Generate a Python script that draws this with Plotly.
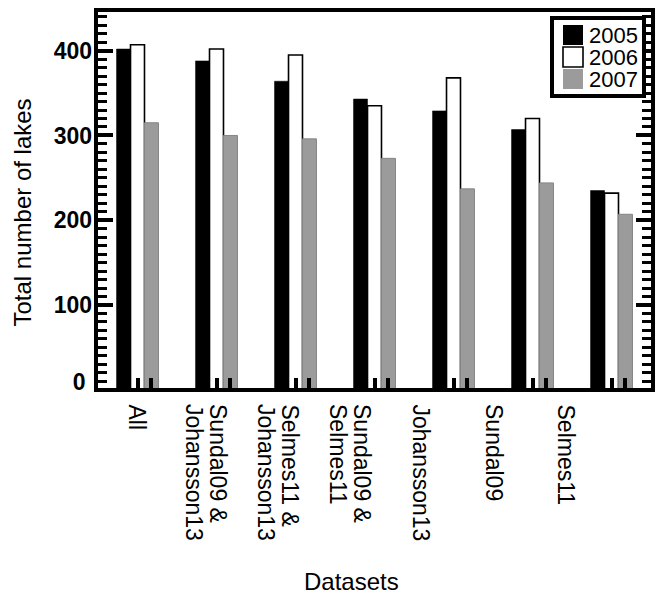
import plotly.graph_objects as go

# ---------------- data ----------------
CATEGORY_LINES = [
    ["All"],
    ["Sundal09 &", "Johansson13"],
    ["Selmes11 &", "Johansson13"],
    ["Sundal09 &", "Selmes11"],
    ["Johansson13"],
    ["Sundal09"],
    ["Selmes11"],
]
YEARS = ["2005", "2006", "2007"]
LAKES_2005 = [402, 388, 364, 343, 329, 307, 235]
LAKES_2006 = [407, 402, 395, 335, 368, 320, 232]
LAKES_2007 = [315, 300, 296, 273, 237, 244, 207]
Y_TICKS = [0, 100, 200, 300, 400]
Y_TICK_LABELS = ["0\u00a0", "100", "200", "300", "400"]
Y_MINOR_STEP = 10

# ---------------- layout helpers ----------------
W, H = 656, 600
PL, PR, PT, PB = 98, 651, 12, 388          # plot area edges in pixels
X_RANGE = [-0.5, 6.5]
Y_RANGE = [2, 445.7]
FONT = "Liberation Sans, Arial, Helvetica, sans-serif"
LINE_W = 4


def px_x(px):
    return (px - PL) / (PR - PL)


def px_y(py):
    return (PB - py) / (PB - PT)


BAR_W = 0.177
STYLES = [
    dict(fill="#000000", line="#000000", lw=0.5),
    dict(fill="#ffffff", line="#000000", lw=1.6),
    dict(fill="#9b9b9b", line="#858585", lw=1.0),
]
OFFSETS = [-1.5 * BAR_W, -0.5 * BAR_W, 0.5 * BAR_W]
SERIES = [LAKES_2005, LAKES_2006, LAKES_2007]

fig = go.Figure()
groups = list(range(len(CATEGORY_LINES)))
for name, vals, st, off in zip(YEARS, SERIES, STYLES, OFFSETS):
    fig.add_trace(go.Bar(
        x=groups, y=vals, name=name, offset=off, width=BAR_W,
        marker=dict(color=st["fill"], opacity=1,
                    line=dict(color=st["line"], width=st["lw"])),
        showlegend=False,
    ))

# empty traces to carry the overlay axes (major ticks, tick labels)
fig.add_trace(go.Scatter(x=[], y=[], yaxis="y2", showlegend=False, hoverinfo="skip"))
fig.add_trace(go.Scatter(x=[], y=[], yaxis="y3", showlegend=False, hoverinfo="skip"))

bar_centers = [g + k * BAR_W for g in groups for k in (-1, 0, 1)]
zero_shift = 8 * (Y_RANGE[1] - Y_RANGE[0]) / (PB - PT)
label_vals = [v + (zero_shift if v == 0 else 0) for v in Y_TICKS]

fig.update_layout(
    width=W, height=H,
    margin=dict(l=PL, r=W - PR, t=PT, b=H - PB, pad=0, autoexpand=False),
    paper_bgcolor="white", plot_bgcolor="white",
    barmode="overlay",
    font=dict(family=FONT, color="black"),
    xaxis=dict(range=X_RANGE, showline=True, linewidth=LINE_W, linecolor="black",
               mirror=True, ticks="inside", ticklen=6 + LINE_W, tickwidth=3.5,
               tickcolor="black", tickmode="array", tickvals=bar_centers,
               showticklabels=False, showgrid=False, zeroline=False,
               fixedrange=True),
    # minor ticks + frame line
    yaxis=dict(range=Y_RANGE, showline=True, linewidth=LINE_W, linecolor="black",
               mirror="ticks", ticks="inside", ticklen=5 + LINE_W, tickwidth=2.5,
               tickcolor="black", tickmode="linear", tick0=0, dtick=Y_MINOR_STEP,
               showticklabels=False, showgrid=False, zeroline=False,
               fixedrange=True),
    # major ticks
    yaxis2=dict(range=Y_RANGE, overlaying="y", side="left", showline=False,
                mirror="ticks", ticks="inside", ticklen=11 + LINE_W, tickwidth=3.5,
                tickcolor="black", tickmode="array", tickvals=Y_TICKS,
                showticklabels=False, showgrid=False, zeroline=False,
                fixedrange=True),
    # tick labels
    yaxis3=dict(range=Y_RANGE, overlaying="y", side="left", showline=False,
                ticks="", tickmode="array", tickvals=label_vals,
                ticktext=Y_TICK_LABELS, showgrid=False, zeroline=False,
                tickfont=dict(size=23, weight="bold", family=FONT),
                ticklabelstandoff=5, fixedrange=True),
)

ann = []
# axis titles
ann.append(dict(text="Total number of lakes", x=px_x(22), y=px_y(212.5),
                xref="paper", yref="paper", textangle=-90, showarrow=False,
                xanchor="center", yanchor="middle", font=dict(size=24)))
ann.append(dict(text="Datasets", x=px_x(351), y=px_y(581),
                xref="paper", yref="paper", showarrow=False,
                xanchor="center", yanchor="middle", font=dict(size=24)))

# rotated category labels
LABEL_X_PX = [136.5, 217.5, 289.5, 361.5, 420, 493.5, 565]
LINE_STEP = 24
for lines, lx in zip(CATEGORY_LINES, LABEL_X_PX):
    for j, line in enumerate(lines):
        ann.append(dict(text=line, x=px_x(lx - j * LINE_STEP), y=px_y(402),
                        xref="paper", yref="paper", textangle=90,
                        showarrow=False, xanchor="center", yanchor="top",
                        font=dict(size=23)))

# legend box (drawn manually)
shapes = [dict(type="rect", xref="paper", yref="paper",
               x0=px_x(552), x1=px_x(644), y0=px_y(18), y1=px_y(96),
               line=dict(color="black", width=4), fillcolor="white",
               layer="above")]
ROW_TOPS = [25, 47, 69]
for name, st, top in zip(YEARS, STYLES, ROW_TOPS):
    shapes.append(dict(type="rect", xref="paper", yref="paper",
                       x0=px_x(563), x1=px_x(583), y0=px_y(top), y1=px_y(top + 20),
                       line=dict(color=st["line"], width=st["lw"] if st["lw"] > 1 else 0),
                       fillcolor=st["fill"], layer="above"))
    ann.append(dict(text=name, x=px_x(587), y=px_y(top + 10), height=20,
                    xref="paper", yref="paper", showarrow=False,
                    xanchor="left", yanchor="middle", font=dict(size=22)))

fig.update_layout(annotations=ann, shapes=shapes)
fig.write_html(
    "out.html",
    config={"displayModeBar": False},
    post_script="document.body.style.margin='0';document.body.style.overflow='hidden';",
)
